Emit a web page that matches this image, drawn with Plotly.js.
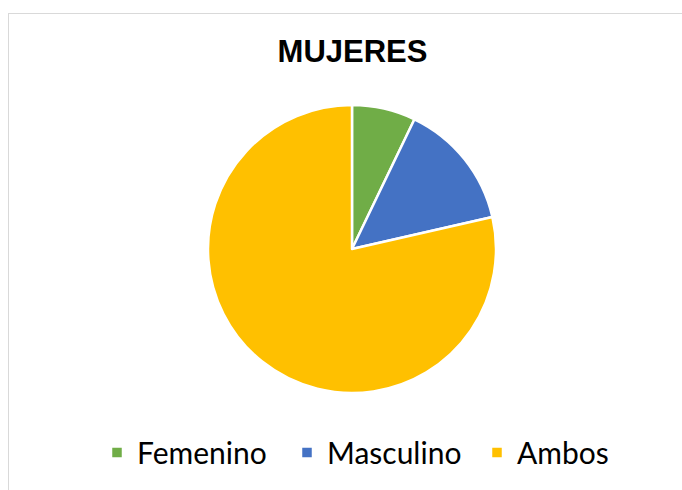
<!DOCTYPE html>
<html>
<head>
<meta charset="utf-8">
<script src="https://cdn.plot.ly/plotly-3.0.1.min.js"></script>
<style>
  html, body { margin: 0; padding: 0; background: #fff; overflow: hidden; }
  #chart { width: 682px; height: 490px; position: absolute; left: 0; top: 0; }
  #frame { position: absolute; left: 8px; top: 13px; width: 700px; height: 500px;
           border: 1.5px solid #d9d9d9; pointer-events: none; box-sizing: border-box; }
</style>
</head>
<body>
<div id="chart"></div>
<div id="frame"></div>
<script>
const categories = ["Femenino", "Masculino", "Ambos"];
const values = [1, 2, 11];
const colors = ["#70AD47", "#4472C4", "#FFC000"];
const chartTitle = "MUJERES";

const trace = {
  type: "pie",
  labels: categories,
  values: values,
  sort: false,
  direction: "clockwise",
  rotation: 0,
  textinfo: "none",
  hoverinfo: "label+value+percent",
  marker: { colors: colors, line: { color: "#ffffff", width: 2.5 } },
  domain: { x: [208/682, 496/682], y: [1 - 393/490, 1 - 105/490] }
};

const layout = {
  width: 682, height: 490,
  margin: { l: 0, r: 0, t: 0, b: 0, autoexpand: false },
  paper_bgcolor: "#ffffff",
  title: {
    text: "<b>" + chartTitle + "</b>",
    font: { family: "Liberation Sans, Arial, sans-serif", size: 31, color: "#000000" },
    x: 352.5/682, xanchor: "center", xref: "container",
    y: 1 - 51.5/490, yanchor: "middle", yref: "container"
  },
  showlegend: true,
  legend: {
    orientation: "h",
    x: 97/682, xanchor: "left",
    y: 1 - 452.5/490, yanchor: "middle",
    entrywidth: 145,
    font: { family: "Lato, Open Sans, sans-serif", size: 30, color: "#000000" },
    traceorder: "normal"
  }
};

Plotly.newPlot("chart", [trace], layout, { displayModeBar: false, staticPlot: true });
</script>
</body>
</html>
